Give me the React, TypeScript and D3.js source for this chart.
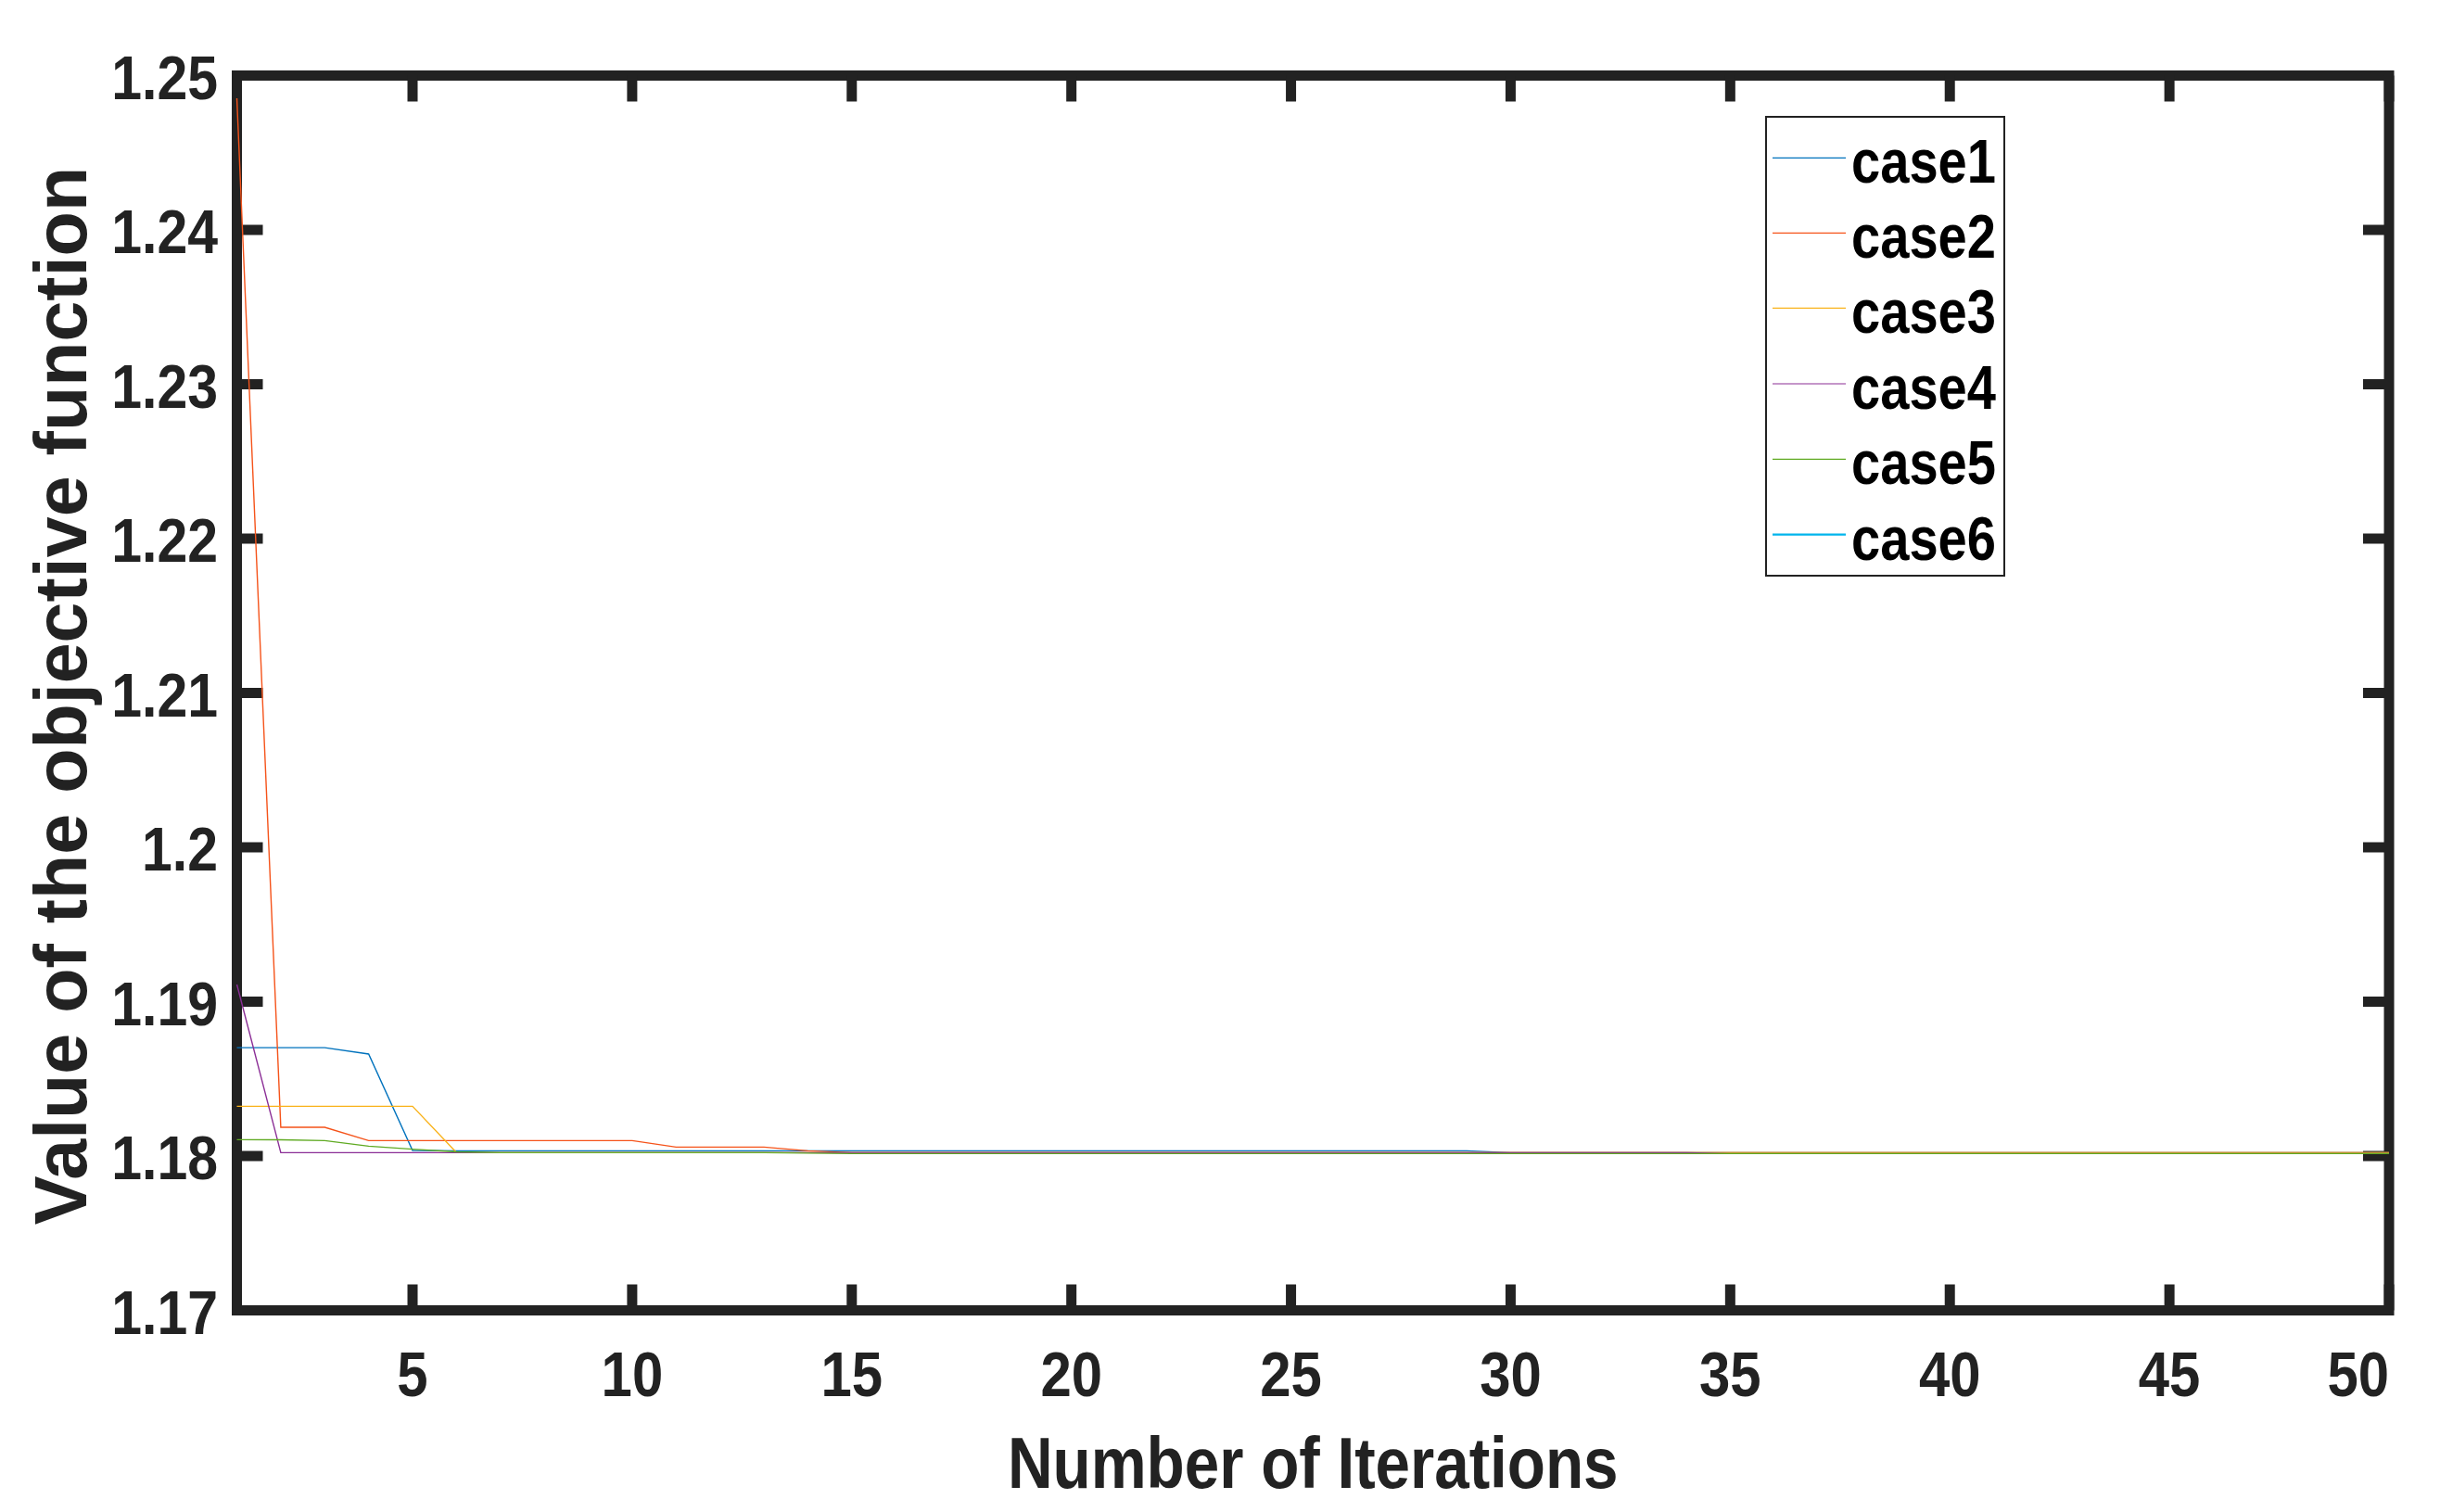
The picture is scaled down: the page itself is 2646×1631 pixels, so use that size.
import React from "react";
import * as d3 from "d3";

const iterations: number[] = Array.from({ length: 50 }, (_, i) => i + 1);

const seriesNames = ["case1", "case2", "case3", "case4", "case5", "case6"];
const seriesColors = ["#0072BD", "#F5531A", "#F9B21A", "#8B2E96", "#5FAA22", "#00B4EC"];

// values per iteration (50 each); case6 is not visible in the plot
const case1: number[] = [
  1.18702, 1.18702, 1.18702, 1.18661, 1.18036, 1.18034, 1.18034, 1.18034, 1.18034, 1.18034,
  1.18034, 1.18034, 1.18034, 1.18034, 1.18034, 1.18034, 1.18034, 1.18034, 1.18034, 1.18034,
  1.18034, 1.18034, 1.18034, 1.18034, 1.18034, 1.18034, 1.18034, 1.18034, 1.18034, 1.18022,
  1.18022, 1.18022, 1.18022, 1.18022, 1.18022, 1.18022, 1.18022, 1.18022, 1.18022, 1.18022,
  1.18022, 1.18022, 1.18022, 1.18022, 1.18022, 1.18022, 1.18022, 1.18022, 1.18022, 1.18022,
];
const case2: number[] = [
  1.24853, 1.18186, 1.18186, 1.181, 1.181, 1.181, 1.181, 1.181, 1.181, 1.181,
  1.18058, 1.18058, 1.18058, 1.18034, 1.18022, 1.18022, 1.18022, 1.18022, 1.18022, 1.18022,
  1.18022, 1.18022, 1.18022, 1.18022, 1.18022, 1.18022, 1.18022, 1.18022, 1.18022, 1.18022,
  1.18022, 1.18022, 1.18022, 1.18022, 1.18022, 1.18022, 1.18022, 1.18022, 1.18022, 1.18022,
  1.18022, 1.18022, 1.18022, 1.18022, 1.18022, 1.18022, 1.18022, 1.18022, 1.18022, 1.18022,
];
const case3: number[] = [
  1.18322, 1.18322, 1.18322, 1.18322, 1.18322, 1.18022, 1.18022, 1.18022, 1.18022, 1.18022,
  1.18022, 1.18022, 1.18022, 1.18022, 1.18022, 1.18022, 1.18022, 1.18022, 1.18022, 1.18022,
  1.18022, 1.18022, 1.18022, 1.18022, 1.18022, 1.18022, 1.18022, 1.18022, 1.18022, 1.18022,
  1.18022, 1.18022, 1.18022, 1.18022, 1.18022, 1.18022, 1.18022, 1.18022, 1.18022, 1.18022,
  1.18022, 1.18022, 1.18022, 1.18022, 1.18022, 1.18022, 1.18022, 1.18022, 1.18022, 1.18022,
];
const case4: number[] = [
  1.19111, 1.18022, 1.18022, 1.18022, 1.18022, 1.18022, 1.18022, 1.18022, 1.18022, 1.18022,
  1.18022, 1.18022, 1.18022, 1.18022, 1.18022, 1.18022, 1.18022, 1.18022, 1.18022, 1.18022,
  1.18022, 1.18022, 1.18022, 1.18022, 1.18022, 1.18022, 1.18022, 1.18022, 1.18022, 1.18022,
  1.18022, 1.18022, 1.18022, 1.18021, 1.18016, 1.18016, 1.18016, 1.18016, 1.18016, 1.18016,
  1.18016, 1.18016, 1.18016, 1.18016, 1.18016, 1.18016, 1.18016, 1.18016, 1.18016, 1.18016,
];
const case5: number[] = [
  1.18106, 1.18105, 1.181, 1.18064, 1.18044, 1.18027, 1.18022, 1.18022, 1.18022, 1.18022,
  1.18022, 1.18022, 1.18022, 1.18019, 1.18016, 1.18016, 1.18016, 1.18016, 1.18016, 1.18016,
  1.18016, 1.18016, 1.18016, 1.18016, 1.18016, 1.18016, 1.18016, 1.18016, 1.18016, 1.18016,
  1.18016, 1.18016, 1.18016, 1.18016, 1.18016, 1.18016, 1.18016, 1.18016, 1.18016, 1.18016,
  1.18016, 1.18016, 1.18016, 1.18016, 1.18016, 1.18016, 1.18016, 1.18016, 1.18016, 1.18016,
];
const case6: number[] = [];

const seriesValues: number[][] = [case1, case2, case3, case4, case5, case6];

const xTicks: number[] = [5, 10, 15, 20, 25, 30, 35, 40, 45, 50];
const yTicks: number[] = [1.17, 1.18, 1.19, 1.2, 1.21, 1.22, 1.23, 1.24, 1.25];

const xLabel = "Number of Iterations";
const yLabel = "Value of the objective function";

const W = 2646;
const H = 1631;
const L = 255.5;
const R = 2577;
const T = 81.5;
const B = 1413.5;
const AXC = "#222222";
const FONT = "'Liberation Sans', Arial, Helvetica, sans-serif";

export default function App() {
  const x = d3.scaleLinear().domain([1, 50]).range([L, R]);
  const y = d3.scaleLinear().domain([1.17, 1.25]).range([B, T]);
  const line = d3
    .line<number>()
    .x((_, i) => x(iterations[i]))
    .y((v) => y(v));

  const tickLen = 28;
  const legendLineY = [170.3, 251.3, 332.3, 414, 495.3, 576.7];
  const lastX = xTicks[xTicks.length - 1];

  return (
    <svg
      width={W}
      height={H}
      viewBox={`0 0 ${W} ${H}`}
      style={{ position: "absolute", left: 0, top: 0, background: "#fff" }}
    >
      <rect x={0} y={0} width={W} height={H} fill="#fff" />

      {/* frame */}
      <rect x={L} y={T} width={R - L} height={B - T} fill="none" stroke={AXC} strokeWidth={11} />

      {/* y ticks */}
      {yTicks.map((t) => (
        <g key={"y" + t}>
          <line x1={L} x2={L + tickLen} y1={y(t)} y2={y(t)} stroke={AXC} strokeWidth={11} />
          <line x1={R} x2={R - tickLen} y1={y(t)} y2={y(t)} stroke={AXC} strokeWidth={11} />
          <text
            transform={`translate(235,${y(t) + 25}) scale(0.88,1)`}
            textAnchor="end"
            fontFamily={FONT}
            fontWeight="bold"
            fontSize={67}
            fill={AXC}
          >
            {d3.format("~g")(t)}
          </text>
        </g>
      ))}

      {/* x ticks */}
      {xTicks.map((t) => (
        <g key={"x" + t}>
          <line x1={x(t)} x2={x(t)} y1={B} y2={B - tickLen} stroke={AXC} strokeWidth={11} />
          <line x1={x(t)} x2={x(t)} y1={T} y2={T + tickLen} stroke={AXC} strokeWidth={11} />
          <text
            transform={`translate(${t === lastX ? x(t) : x(t)},1506) scale(0.88,1)`}
            textAnchor={t === lastX ? "end" : "middle"}
            fontFamily={FONT}
            fontWeight="bold"
            fontSize={68}
            fill={AXC}
          >
            {t}
          </text>
        </g>
      ))}

      {/* series drawn over the axes, as in the source */}
      <g>
        {seriesValues.map((vals, si) =>
          vals.length ? (
            <path
              key={seriesNames[si]}
              d={line(vals) || ""}
              fill="none"
              stroke={seriesColors[si]}
              strokeWidth={1.4}
            />
          ) : null
        )}
      </g>

      {/* axis labels */}
      <text
        transform={`translate(${(L + R) / 2},1605) scale(0.875,1)`}
        textAnchor="middle"
        fontFamily={FONT}
        fontWeight="bold"
        fontSize={77}
        fill={AXC}
      >
        {xLabel}
      </text>
      <text
        transform={`translate(93,${(T + B) / 2 + 3}) rotate(-90)`}
        textAnchor="middle"
        fontFamily={FONT}
        fontWeight="bold"
        fontSize={79}
        fill={AXC}
      >
        {yLabel}
      </text>

      {/* legend */}
      <rect x={1905} y={126} width={257} height={495} fill="#fff" stroke={AXC} strokeWidth={2} />
      {seriesNames.map((name, i) => (
        <g key={name}>
          <line
            x1={1912}
            x2={1991}
            y1={legendLineY[i]}
            y2={legendLineY[i]}
            stroke={seriesColors[i]}
            strokeWidth={i === 5 ? 2.2 : 1.2}
          />
          <text
            transform={`translate(1997,${legendLineY[i] + 27}) scale(0.85,1)`}
            fontFamily={FONT}
            fontWeight="bold"
            fontSize={66}
            fill="#000"
          >
            {name}
          </text>
        </g>
      ))}
    </svg>
  );
}
